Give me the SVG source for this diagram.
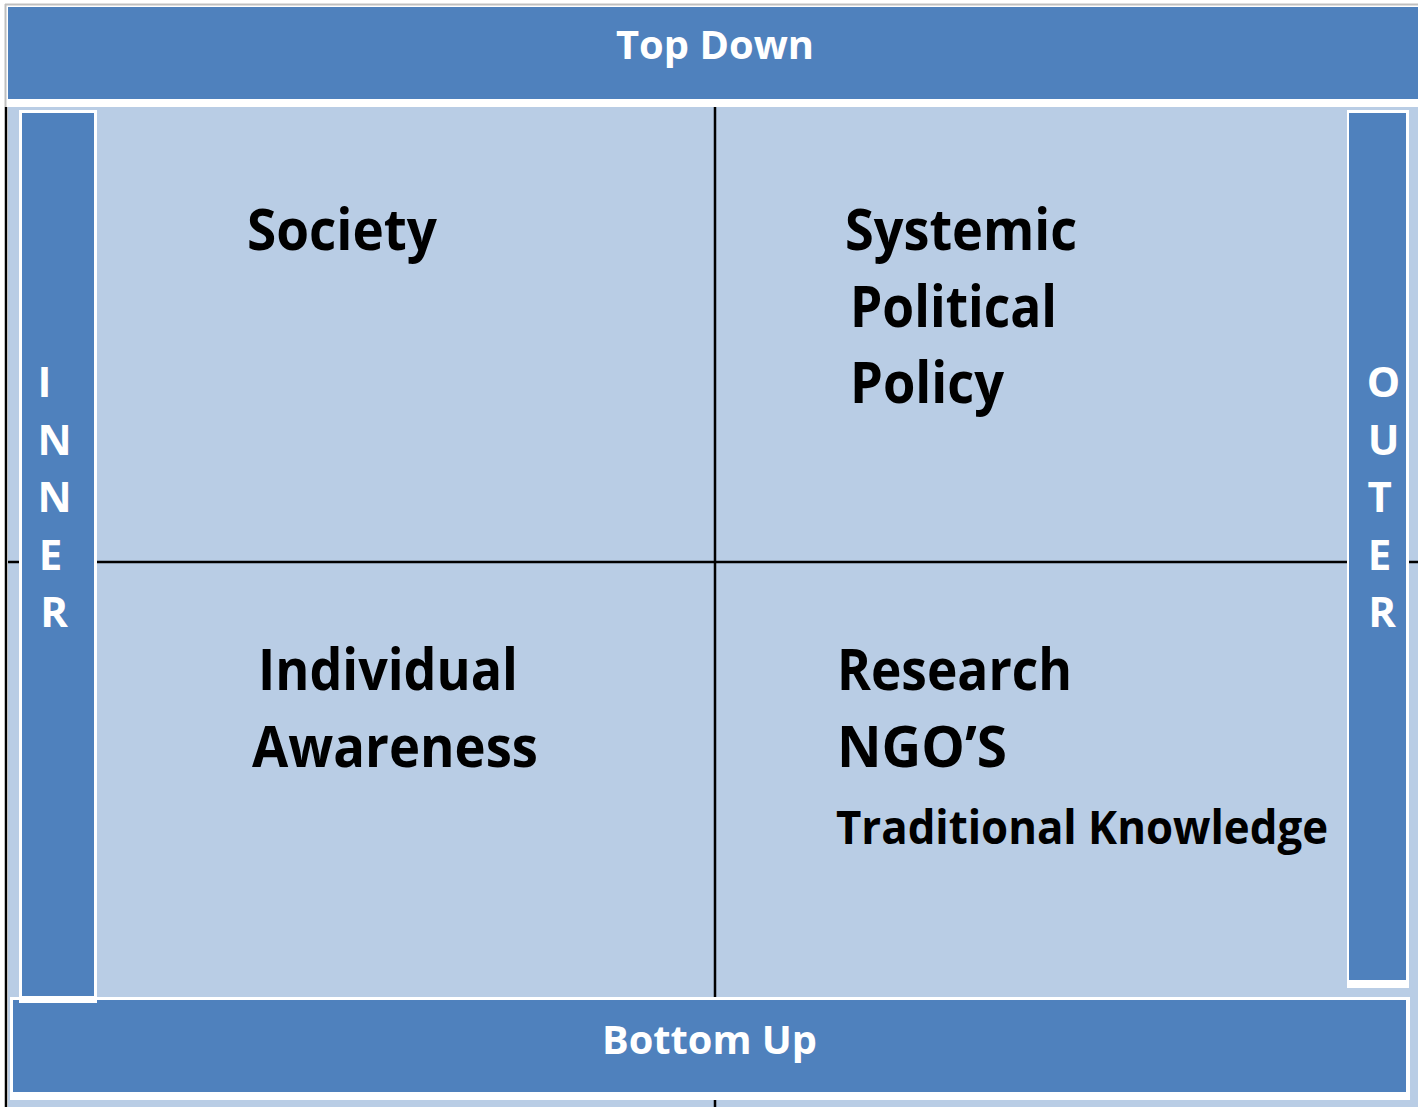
<svg xmlns="http://www.w3.org/2000/svg" width="1418" height="1107" viewBox="0 0 1418 1107">
<style>
.dark{fill:#4F81BD}
.wb{fill:#FFFFFF}
.lt{fill:#B9CDE5}
.ln{stroke:#000;stroke-width:2.5;fill:none}
.wt{font-family:"Open Sans","Noto Sans",sans-serif;font-weight:bold;fill:#FFFFFF}
.bt{font-family:"Open Sans","Noto Sans",sans-serif;font-weight:bold;fill:#000000}
</style>
<rect x="0" y="0" width="1418" height="1107" fill="#FFFFFF"/>
<g id="background">
<line x1="5" y1="4.5" x2="1418" y2="4.5" stroke="#BFBFBF" stroke-width="2"/>
<line x1="5.5" y1="4" x2="5.5" y2="107" stroke="#BFBFBF" stroke-width="2"/>
<rect class="lt" x="8" y="107" width="1410" height="1000"/>
</g>
<g id="connectors">
<line class="ln" x1="6" y1="107" x2="6" y2="1107"/>
<line class="ln" x1="8" y1="562" x2="1418" y2="562"/>
<line class="ln" x1="715" y1="107" x2="715" y2="1107"/>
</g>
<g id="top-down">
<rect class="dark" x="8" y="7" width="1410" height="92"/>
<text class="wt" x="616" y="59" font-size="40" textLength="198" lengthAdjust="spacingAndGlyphs">Top Down</text>
</g>
<g id="bottom-up">
<rect class="wb" x="10" y="997" width="1400" height="103"/>
<rect class="dark" x="13" y="1000" width="1393" height="92"/>
<text class="wt" x="602" y="1054" font-size="40" textLength="215" lengthAdjust="spacingAndGlyphs">Bottom Up</text>
</g>
<g id="inner">
<rect class="wb" x="19" y="110" width="78" height="893"/>
<rect class="dark" x="22" y="113" width="72" height="883"/>
<text class="wt" font-size="42" text-anchor="middle">
<tspan x="50" y="397">I</tspan>
<tspan x="60" y="455">N</tspan>
<tspan x="60" y="512">N</tspan>
<tspan x="56" y="570">E</tspan>
<tspan x="54" y="627">R</tspan>
</text>
</g>
<g id="outer">
<rect class="wb" x="1347" y="110" width="62" height="878"/>
<rect class="dark" x="1349" y="113" width="57" height="867"/>
<text class="wt" font-size="42" text-anchor="middle">
<tspan x="1389" y="397">O</tspan>
<tspan x="1389" y="455">U</tspan>
<tspan x="1385" y="512">T</tspan>
<tspan x="1385" y="570">E</tspan>
<tspan x="1382" y="627">R</tspan>
</text>
</g>
<g id="society">
<text class="bt" x="247" y="250" font-size="57" textLength="190" lengthAdjust="spacingAndGlyphs">Society</text>
</g>
<g id="systemic">
<text class="bt" x="845" y="250" font-size="57" textLength="232" lengthAdjust="spacingAndGlyphs">Systemic</text>
<text class="bt" x="850" y="327" font-size="57" textLength="207" lengthAdjust="spacingAndGlyphs">Political</text>
<text class="bt" x="850" y="403" font-size="57" textLength="154" lengthAdjust="spacingAndGlyphs">Policy</text>
</g>
<g id="individual">
<text class="bt" x="258" y="690" font-size="57" textLength="260" lengthAdjust="spacingAndGlyphs">Individual</text>
<text class="bt" x="252" y="767" font-size="57" textLength="286" lengthAdjust="spacingAndGlyphs">Awareness</text>
</g>
<g id="research">
<text class="bt" x="837" y="690" font-size="57" textLength="235" lengthAdjust="spacingAndGlyphs">Research</text>
<text class="bt" x="837" y="767" font-size="57" textLength="170" lengthAdjust="spacingAndGlyphs">NGO’S</text>
<text class="bt" x="836" y="844" font-size="47" textLength="492" lengthAdjust="spacingAndGlyphs">Traditional Knowledge</text>
</g>
</svg>
